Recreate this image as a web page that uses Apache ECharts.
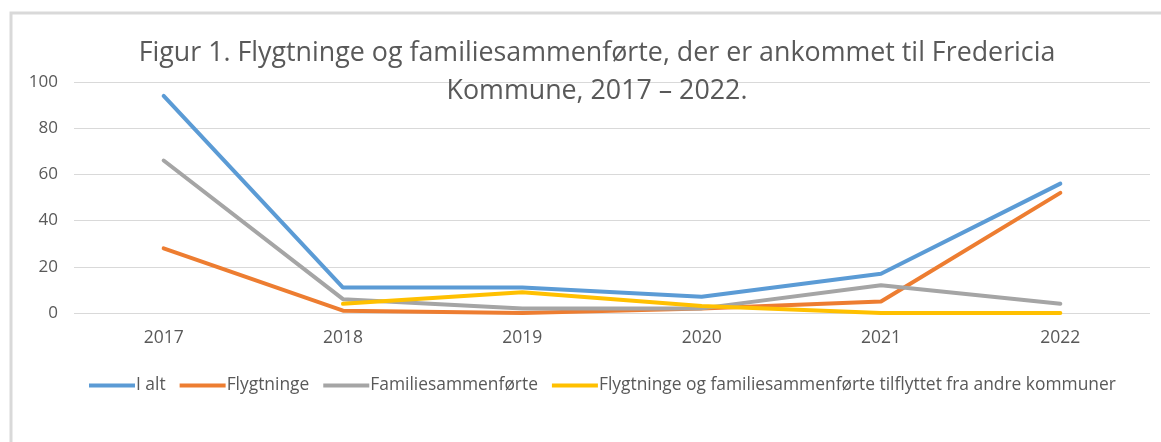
<!DOCTYPE html>
<html>
<head>
<meta charset="utf-8">
<script src="https://cdn.jsdelivr.net/npm/echarts@6/dist/echarts.min.js"></script>
<style>
  html, body { margin: 0; padding: 0; background: #fff; }
  #chart { width: 1161px; height: 442px; }
</style>
</head>
<body>
<div id="chart"></div>
<script>
// data
var years = ['2017', '2018', '2019', '2020', '2021', '2022'];
var iAlt = [94, 11, 11, 7, 17, 56];
var flygtninge = [28, 1, 0, 2, 5, 52];
var familie = [66, 6, 2, 2, 12, 4];
var tilflyttet = [null, 4, 9, 3, 0, 0];
var yTicks = [0, 20, 40, 60, 80, 100];

var chart = echarts.init(document.getElementById('chart'));

function line(name, data, color) {
  return {
    name: name,
    type: 'line',
    data: data,
    symbol: 'none',
    connectNulls: false,
    lineStyle: { color: color, width: 4, cap: 'round' },
    itemStyle: { color: color }
  };
}

var option = {
  animation: false,
  backgroundColor: '#fff',
  color: ['#5b9bd5', '#ed7d31', '#a5a5a5', '#ffc000'],
  graphic: [{
    type: 'rect',
    shape: { x: 11, y: 13, width: 1160, height: 440 },
    style: { fill: 'none', stroke: '#d9d9d9', lineWidth: 3 },
    z: -1
  }],
  title: {
    text: 'Figur 1. Flygtninge og familiesammenførte, der er ankommet til Fredericia\nKommune, 2017 – 2022.',
    left: 592,
    top: 29,
    textAlign: 'center',
    textStyle: {
      color: '#595959',
      fontFamily: 'Open Sans',
      fontWeight: 'normal',
      fontSize: 26.8,
      lineHeight: 38
    }
  },
  legend: {
    top: 372,
    left: 84,
    itemWidth: 46,
    itemHeight: 4,
    itemGap: 14,
    icon: 'rect',
    textStyle: { color: '#595959', fontFamily: 'Open Sans', fontSize: 17.4, padding: [0, 0, 0, -4] },
    data: ['I alt', 'Flygtninge', 'Familiesammenførte', 'Flygtninge og familiesammenførte tilflyttet fra andre kommuner']
  },
  grid: { left: 74, right: 11, top: 82, bottom: 129 },
  xAxis: {
    type: 'category',
    data: years,
    boundaryGap: true,
    axisLine: { show: false },
    axisTick: { show: false },
    axisLabel: { color: '#595959', fontFamily: 'Open Sans', fontSize: 17.5, margin: 16 }
  },
  yAxis: {
    type: 'value',
    min: yTicks[0],
    max: yTicks[yTicks.length - 1],
    interval: 20,
    axisLine: { show: false },
    axisTick: { show: false },
    axisLabel: { color: '#595959', fontFamily: 'Open Sans', fontSize: 17, margin: 16 },
    splitLine: { lineStyle: { color: '#d9d9d9', width: 1 } }
  },
  series: [
    line('I alt', iAlt, '#5b9bd5'),
    line('Flygtninge', flygtninge, '#ed7d31'),
    line('Familiesammenførte', familie, '#a5a5a5'),
    line('Flygtninge og familiesammenførte tilflyttet fra andre kommuner', tilflyttet, '#ffc000')
  ]
};

chart.setOption(option);
</script>
</body>
</html>
